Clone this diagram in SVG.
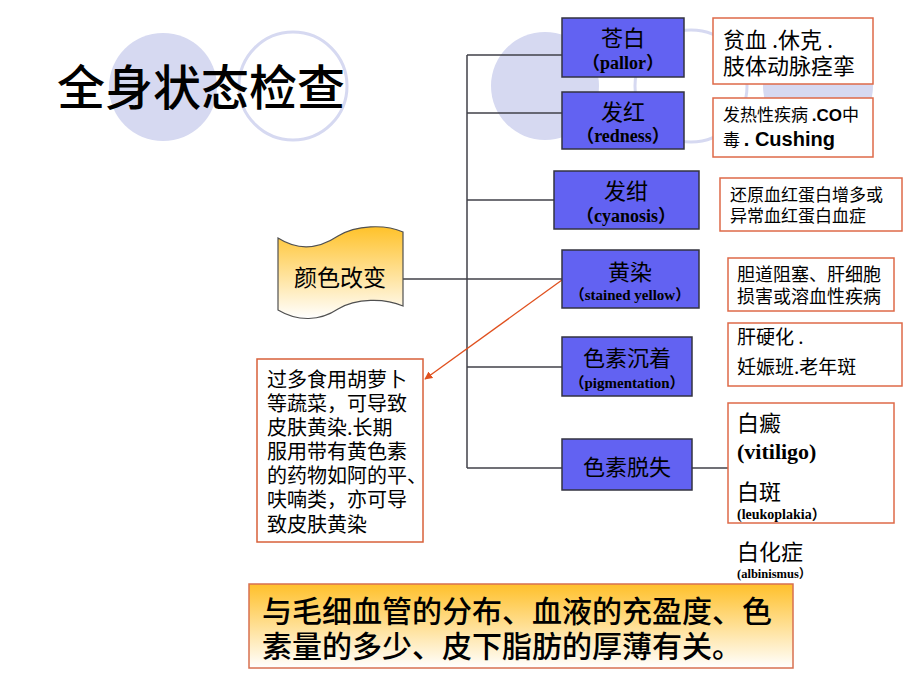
<svg xmlns="http://www.w3.org/2000/svg" width="920" height="690" viewBox="0 0 920 690">
<defs>
<linearGradient id="gScroll" x1="0" y1="0" x2="0" y2="1">
<stop offset="0" stop-color="#FFC22A"/>
<stop offset="1" stop-color="#FFFFFF"/>
</linearGradient>
<linearGradient id="gNote" x1="0" y1="0" x2="0" y2="1">
<stop offset="0" stop-color="#FFC02A"/>
<stop offset="1" stop-color="#FFFFFF"/>
</linearGradient>
<marker id="arr" viewBox="0 0 10 10" refX="9" refY="5" markerWidth="8" markerHeight="8" orient="auto" markerUnits="userSpaceOnUse">
<path d="M0,0 L10,5 L0,10 z" fill="#E0501E"/>
</marker>
<style>
.cj{font-family:"Noto Sans CJK SC","Noto Sans",sans-serif;fill:#000}
.en{font-family:"Liberation Serif","Noto Sans CJK SC",serif;font-weight:bold;fill:#000}
.enb{font-family:"Liberation Sans",sans-serif;font-weight:bold;fill:#000}
.blue{fill:#6262F2;stroke:#333340;stroke-width:1.5}
.red{fill:#FFFFFF;stroke:#DE6A48;stroke-width:1.5}
.conn{stroke:#404048;stroke-width:1.5;fill:none}
.bg{fill:#D6D9F1}
.bgo{fill:none;stroke:#D6D9F1;stroke-width:3}
</style>
</defs>
<rect width="920" height="690" fill="#FFFFFF"/>
<g id="background">
<circle class="bg" cx="163" cy="87" r="54"/>
<circle class="bgo" cx="293" cy="86" r="54"/>
<circle class="bg" cx="545" cy="86" r="54"/>
<circle class="bgo" cx="691" cy="86" r="56"/>
<circle class="bg" cx="818" cy="86" r="55"/>
</g>
<g id="title">
<text class="cj" x="57" y="105" font-size="48" font-weight="500">全身状态检查</text>
</g>
<g id="connectors">
<line class="conn" x1="467" y1="55" x2="467" y2="468"/>
<line class="conn" x1="467" y1="55" x2="562" y2="55"/>
<line class="conn" x1="467" y1="113" x2="562" y2="113"/>
<line class="conn" x1="467" y1="200" x2="554" y2="200"/>
<line class="conn" x1="403" y1="279" x2="562" y2="279"/>
<line class="conn" x1="467" y1="367" x2="562" y2="367"/>
<line class="conn" x1="467" y1="468" x2="562" y2="468"/>
<line class="conn" x1="692" y1="468" x2="728" y2="468"/>
<line x1="562" y1="280" x2="425" y2="379" stroke="#E0501E" stroke-width="1.3" marker-end="url(#arr)"/>
</g>
<g id="root">
<path d="M278,238 C300,252 320,248 338,236 C356,225 385,224 403,232 L403,306 C385,298 356,298 338,309 C320,321 298,322 278,310 Z" fill="url(#gScroll)" stroke="#505050" stroke-width="1.2"/>
<text class="cj" x="340" y="286" font-size="23" text-anchor="middle">颜色改变</text>
</g>
<g id="pallor">
<rect class="blue" x="562" y="18" width="122" height="59"/>
<text class="cj" x="623" y="46" font-size="22" text-anchor="middle">苍白</text>
<text class="en" x="623" y="69" font-size="18" text-anchor="middle">（pallor）</text>
</g>
<g id="redness">
<rect class="blue" x="562" y="92" width="122" height="57"/>
<text class="cj" x="623" y="120" font-size="22" text-anchor="middle">发红</text>
<text class="en" x="623" y="142" font-size="18" text-anchor="middle">（redness）</text>
</g>
<g id="cyanosis">
<rect class="blue" x="554" y="171" width="145" height="58"/>
<text class="cj" x="626" y="199" font-size="22" text-anchor="middle">发绀</text>
<text class="en" x="626" y="222" font-size="18" text-anchor="middle">（cyanosis）</text>
</g>
<g id="yellow">
<rect class="blue" x="562" y="250" width="137" height="58"/>
<text class="cj" x="630" y="280" font-size="22" text-anchor="middle">黄染</text>
<text class="en" x="630" y="300" font-size="15" text-anchor="middle">（stained yellow）</text>
</g>
<g id="pigmentation">
<rect class="blue" x="562" y="337" width="130" height="59"/>
<text class="cj" x="627" y="366" font-size="22" text-anchor="middle">色素沉着</text>
<text class="en" x="627" y="388" font-size="15" text-anchor="middle">（pigmentation）</text>
</g>
<g id="depigmentation">
<rect class="blue" x="562" y="439" width="130" height="51"/>
<text class="cj" x="627" y="475" font-size="22" text-anchor="middle">色素脱失</text>
</g>
<g id="pallor-causes">
<rect class="red" x="713" y="18" width="160" height="66"/>
<text class="cj" x="723" y="48" font-size="22">贫血 .休克 .</text>
<text class="cj" x="723" y="74" font-size="22">肢体动脉痉挛</text>
</g>
<g id="redness-causes">
<rect class="red" x="713" y="98" width="160" height="59"/>
<text class="cj" x="723" y="121" font-size="17">发热性疾病 <tspan class="enb">.CO</tspan>中</text>
<text class="cj" x="723" y="146" font-size="17">毒 <tspan class="enb" font-size="20">. Cushing</tspan></text>
</g>
<g id="cyanosis-causes">
<rect class="red" x="720" y="178" width="182" height="53"/>
<text class="cj" x="730" y="201" font-size="17">还原血红蛋白增多或</text>
<text class="cj" x="730" y="222" font-size="17">异常血红蛋白血症</text>
</g>
<g id="yellow-causes">
<rect class="red" x="728" y="258" width="166" height="53"/>
<text class="cj" x="737" y="281" font-size="18">胆道阻塞、肝细胞</text>
<text class="cj" x="737" y="303" font-size="18">损害或溶血性疾病</text>
</g>
<g id="pigmentation-causes">
<rect class="red" x="728" y="323" width="174" height="63"/>
<text class="cj" x="737" y="344" font-size="19">肝硬化 .</text>
<text class="cj" x="737" y="374" font-size="19">妊娠班.老年斑</text>
</g>
<g id="depigmentation-causes">
<rect class="red" x="728" y="403" width="166" height="120"/>
<text class="cj" x="737" y="431" font-size="22">白癜</text>
<text class="en" x="737" y="459" font-size="22">(vitiligo)</text>
<text class="cj" x="737" y="500" font-size="22">白斑</text>
<text class="en" x="737" y="519" font-size="14">(leukoplakia）</text>
</g>
<g id="albinism">
<text class="cj" x="737" y="560" font-size="22">白化症</text>
<text class="en" x="737" y="578" font-size="12.5">(albinismus）</text>
</g>
<g id="yellow-note">
<rect x="257" y="359" width="166" height="183" fill="#FFFFFF" stroke="#D8603A" stroke-width="1.5"/>
<text class="cj" font-size="20">
<tspan x="267" y="387">过多食用胡萝卜</tspan>
<tspan x="267" y="411">等蔬菜，可导致</tspan>
<tspan x="267" y="435">皮肤黄染.长期</tspan>
<tspan x="267" y="459">服用带有黄色素</tspan>
<tspan x="267" y="483">的药物如阿的平、</tspan>
<tspan x="267" y="507">呋喃类，亦可导</tspan>
<tspan x="267" y="532">致皮肤黄染</tspan>
</text>
</g>
<g id="summary">
<rect x="249" y="584" width="544" height="84" fill="url(#gNote)" stroke="#D87050" stroke-width="1.5"/>
<text class="cj" x="262" y="622" font-size="30" font-weight="500">与毛细血管的分布、血液的充盈度、色</text>
<text class="cj" x="262" y="657" font-size="30" font-weight="500">素量的多少、皮下脂肪的厚薄有关。</text>
</g>
</svg>
